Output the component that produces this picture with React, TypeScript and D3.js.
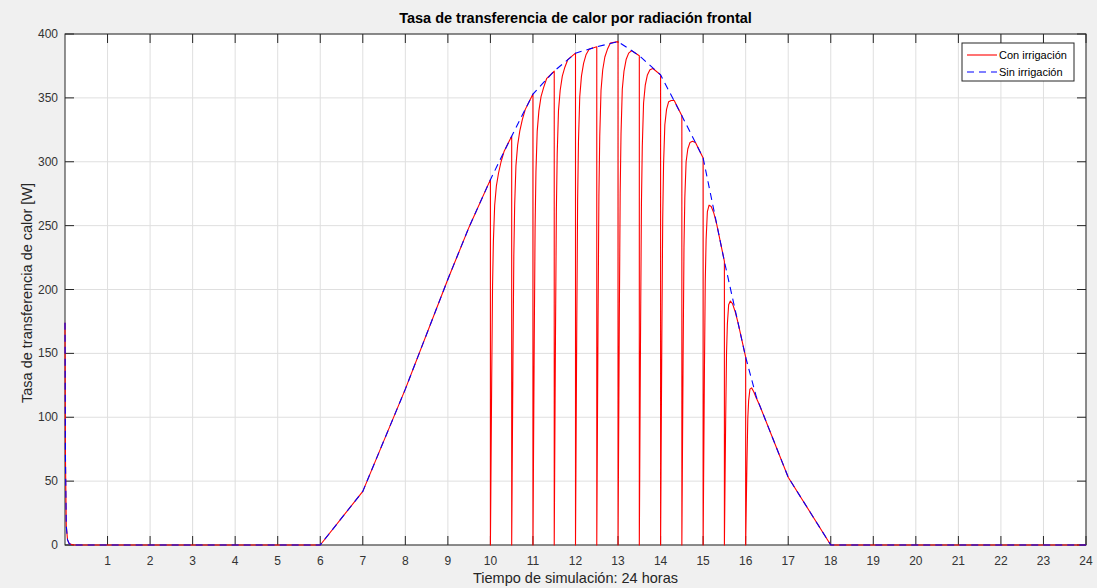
import React from 'react';
import * as d3 from 'd3';

// Sin irrigación (blue dashed), vertices
const blueTimes = [0, 0.01, 0.03, 0.06, 0.1, 0.2, 6, 7, 8, 9, 9.5, 10, 10.5, 11, 11.5, 12, 12.5, 13, 13.5, 14, 14.5, 15, 15.5, 16, 16.25, 17, 18, 24];
const blueValues = [174, 70, 15, 4, 1, 0, 0, 42, 122, 208, 249, 286, 320, 353, 371, 385, 390, 394, 383, 368, 336, 303, 222, 147, 116, 53, 0, 0];

// Con irrigación: drops to zero at each irrigation, then recovers
const dropTimes = [10, 10.5, 11, 11.5, 12, 12.5, 13, 13.5, 14, 14.5, 15, 15.5, 16];
const recoveryDt = [0.01, 0.03, 0.05, 0.07, 0.1, 0.14, 0.19, 0.25, 0.32];
const recoveryValues = [
  [43, 130, 203, 238, 266, 281, 291, 300, 308],
  [48, 145, 226, 266, 297, 313, 324, 333, 341],
  [53, 159, 248, 292, 324, 340, 351, 358, 365],
  [56, 167, 261, 306, 340, 356, 367, 374, 380],
  [58, 173, 270, 316, 351, 367, 377, 384, 388],
  [59, 176, 273, 320, 356, 372, 382, 388, 393],
  [59, 177, 275, 322, 357, 371, 380, 385, 387],
  [57, 172, 267, 312, 346, 360, 368, 372, 373],
  [55, 165, 255, 298, 329, 341, 347, 348, 348],
  [50, 150, 233, 272, 300, 310, 315, 316, 315],
  [45, 134, 206, 239, 261, 266, 265, 260, 251],
  [33, 98, 150, 173, 188, 191, 189, 183, 174],
  [22, 64, 99, 113, 122, 123, 120, 115, 110],
];

const xTicks = d3.range(1, 25);
const yTicks = [0, 50, 100, 150, 200, 250, 300, 350, 400];

const title = 'Tasa de transferencia de calor por radiación frontal';
const xLabel = 'Tiempo de simulación: 24 horas';
const yLabel = 'Tasa de transferencia de calor [W]';
const legendLabels = ['Con irrigación', 'Sin irrigación'];

type Pt = [number, number];

const App: React.FC = () => {
  const width = 1097;
  const height = 588;
  const plot = { left: 65, right: 1086, top: 34, bottom: 545 };

  const x = d3.scaleLinear().domain([0, 24]).range([plot.left, plot.right]);
  const y = d3.scaleLinear().domain([0, 400]).range([plot.bottom, plot.top]);

  const blue: Pt[] = blueTimes.map((t, i) => [t, blueValues[i]]);

  const red: Pt[] = blue.filter(d => d[0] < dropTimes[0]);
  dropTimes.forEach((t0, i) => {
    const atDrop = blue.find(d => d[0] === t0);
    red.push([t0, atDrop ? atDrop[1] : 0]);
    red.push([t0, 0]);
    recoveryDt.forEach((dt, j) => red.push([t0 + dt, recoveryValues[i][j]]));
    const last = t0 + recoveryDt[recoveryDt.length - 1];
    const next = i < dropTimes.length - 1 ? dropTimes[i + 1] : Infinity;
    blue.filter(d => d[0] > last && d[0] < next).forEach(d => red.push(d));
  });

  const line = d3.line<Pt>()
    .x(d => x(d[0]))
    .y(d => y(d[1]));

  const axisColor = '#262626';
  const gridColor = '#dfdfdf';
  const tickLen = 9;
  const font = 'Arial, "Liberation Sans", Helvetica, sans-serif';

  return (
    <div style={{ position: 'absolute', left: 0, top: 0 }}>
      <svg width={width} height={height} style={{ display: 'block', fontFamily: font }}>
        <rect x={0} y={0} width={width} height={height} fill="#f0f0f0" />
        <rect x={plot.left} y={plot.top} width={plot.right - plot.left} height={plot.bottom - plot.top} fill="#fff" />

        <defs>
          <clipPath id="plotClip">
            <rect x={plot.left - 1} y={plot.top - 1} width={plot.right - plot.left + 2} height={plot.bottom - plot.top + 2} />
          </clipPath>
        </defs>

        {/* grid */}
        {xTicks.map(t => (
          <line key={'gx' + t} x1={x(t)} x2={x(t)} y1={plot.top} y2={plot.bottom} stroke={gridColor} strokeWidth={1} />
        ))}
        {yTicks.map(t => (
          <line key={'gy' + t} x1={plot.left} x2={plot.right} y1={y(t)} y2={y(t)} stroke={gridColor} strokeWidth={1} />
        ))}

        {/* box + ticks */}
        <rect x={plot.left} y={plot.top} width={plot.right - plot.left} height={plot.bottom - plot.top} fill="none" stroke={axisColor} strokeWidth={1} />
        {xTicks.map(t => (
          <g key={'tx' + t}>
            <line x1={x(t)} x2={x(t)} y1={plot.bottom} y2={plot.bottom - tickLen} stroke={axisColor} />
            <line x1={x(t)} x2={x(t)} y1={plot.top} y2={plot.top + tickLen} stroke={axisColor} />
            <text x={x(t)} y={565} textAnchor="middle" fontSize={12} fill="#333">{t}</text>
          </g>
        ))}
        {yTicks.map(t => (
          <g key={'ty' + t}>
            <line x1={plot.left} x2={plot.left + tickLen} y1={y(t)} y2={y(t)} stroke={axisColor} />
            <line x1={plot.right} x2={plot.right - tickLen} y1={y(t)} y2={y(t)} stroke={axisColor} />
            <text x={plot.left - 7} y={y(t) + 4} textAnchor="end" fontSize={12} fill="#333">{t}</text>
          </g>
        ))}

        {/* series, drawn over the axes like the original */}
        <g clipPath="url(#plotClip)">
          <path d={line(red) || undefined} fill="none" stroke="#ff0000" strokeWidth={1.1} strokeLinejoin="round" />
          <path d={line(blue) || undefined} fill="none" stroke="#0000ff" strokeWidth={1.1} strokeDasharray="7,5" />
        </g>

        {/* labels */}
        <text x={(plot.left + plot.right) / 2} y={23} textAnchor="middle" fontSize={14.5} fontWeight="bold" fill="#000">{title}</text>
        <text x={(plot.left + plot.right) / 2} y={583} textAnchor="middle" fontSize={14.5} fill="#262626">{xLabel}</text>
        <text transform={`translate(32,293) rotate(-90)`} textAnchor="middle" fontSize={14.5} fill="#262626">{yLabel}</text>

        {/* legend */}
        <g>
          <rect x={962} y={43} width={112} height={38} fill="#fff" stroke={axisColor} strokeWidth={1} />
          <line x1={967} x2={997} y1={55} y2={55} stroke="#ff0000" strokeWidth={1.1} />
          <text x={999} y={59} fontSize={11} fill="#000">{legendLabels[0]}</text>
          <line x1={967} x2={997} y1={72} y2={72} stroke="#0000ff" strokeWidth={1.1} strokeDasharray="7,5" />
          <text x={999} y={76} fontSize={11} fill="#000">{legendLabels[1]}</text>
        </g>
      </svg>
    </div>
  );
};

export default App;
